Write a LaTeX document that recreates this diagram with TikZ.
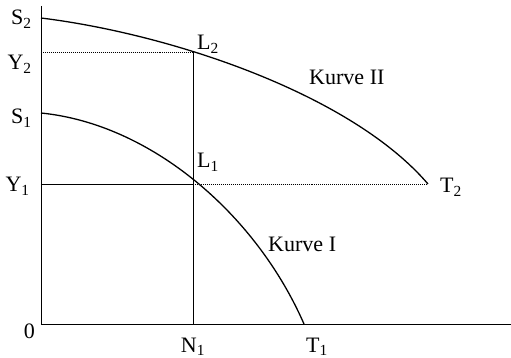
\documentclass[tikz,border=0pt]{standalone}
\usepackage{fontspec}
\setmainfont{Liberation Serif}
\usepackage{tikz}

\begin{document}
\begin{tikzpicture}[x=0.3mm, y=0.3mm,
		font=\fontsize{18.8}{22}\selectfont,
		achse/.style={line width=0.85pt},
		kurve/.style={line width=1.1pt},
		hilfslinie/.style={line width=0.5pt, dash pattern=on 0.6pt off 1.1pt},
		lbl/.style={inner sep=0pt}]
	\useasboundingbox (-41,-34) rectangle (470,324);

	% Punkte
	\coordinate (O) at (0,0);
	\coordinate (Ytop) at (0,318);
	\coordinate (Xend) at (470,0);
	\coordinate (S2) at (0,306);
	\coordinate (S1) at (0,211);
	\coordinate (Y2) at (0,272);
	\coordinate (Y1) at (0,140);
	\coordinate (L2) at (152,272);
	\coordinate (L1) at (152,140);
	\coordinate (N1) at (152,0);
	\coordinate (T1) at (263,0);
	\coordinate (T2) at (387,140);

	% Achsen
	\draw[achse] (Ytop) -- (O) -- (Xend);

	% Hilfslinien
	\draw[hilfslinie] (Y2) -- (L2);
	\draw[hilfslinie] (L1) -- (T2);
	\draw[achse] (Y1) -- (L1);
	\draw[achse] (N1) -- (L2);

	% Kurven
	\draw[kurve] (S1) .. controls (110,200) and (215,110) .. (T1);
	\draw[kurve] (S2) .. controls (130,290) and (310,230) .. (T2);

	% Beschriftung Achsen
	\node[lbl, anchor=base east] (lS2) at (-9,299) {S\textsubscript{2}};
	\node[lbl, anchor=base east] (lY2) at (-9,254) {Y\textsubscript{2}};
	\node[lbl, anchor=base east] (lS1) at (-9,200) {S\textsubscript{1}};
	\node[lbl, anchor=base east] (lY1) at (-11,132) {Y\textsubscript{1}};
	\node[lbl, anchor=base east] (lO) at (-6,-14) {0};
	\node[lbl, anchor=base] (lN1) at (152,-28) {N\textsubscript{1}};
	\node[lbl, anchor=base west] (lT1) at (265,-28) {T\textsubscript{1}};
	\node[lbl, anchor=base west] (lT2) at (399,131) {T\textsubscript{2}};

	% Beschriftung Punkte und Kurven
	\node[lbl, anchor=base west] (lL2) at (156,274) {L\textsubscript{2}};
	\node[lbl, anchor=base west] (lL1) at (156,156) {L\textsubscript{1}};
	\node[lbl, anchor=base west] (kII) at (268,239) {Kurve II};
	\node[lbl, anchor=base west] (kI) at (227,72) {Kurve I};
\end{tikzpicture}
\end{document}
